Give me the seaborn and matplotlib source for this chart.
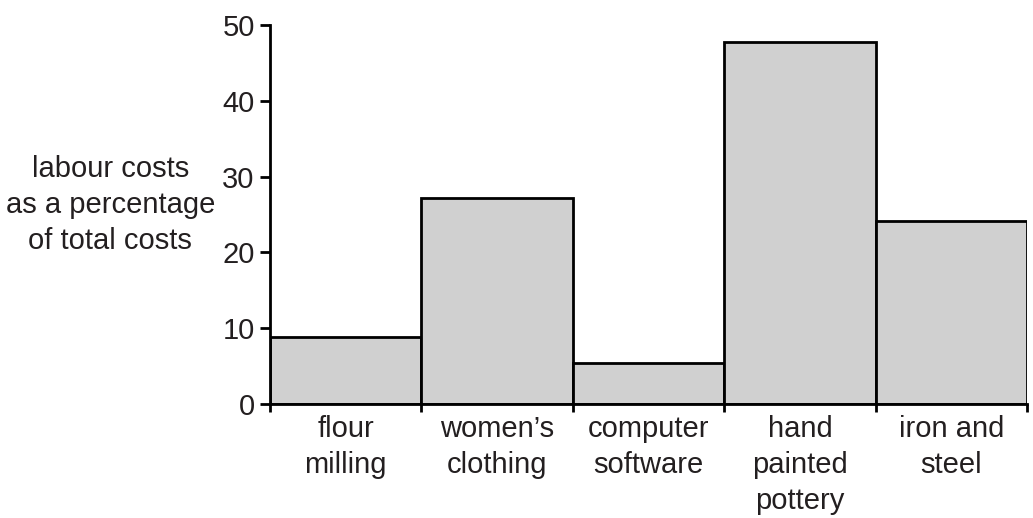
import matplotlib
matplotlib.use("Agg")
import matplotlib.pyplot as plt
import seaborn as sns
import pandas as pd
import numpy as np

categories = ["flour\nmilling", "women’s\nclothing", "computer\nsoftware",
              "hand\npainted\npottery", "iron and\nsteel"]
values = [8.9, 27.2, 5.4, 47.8, 24.2]
yticks = [0, 10, 20, 30, 40, 50]
ylabel = "labour costs\nas a percentage\nof total costs"

sns.set_theme(style="white")
plt.rcParams['font.family'] = ['Liberation Sans', 'DejaVu Sans']
txt = '#231f20'
fs = 21

df = pd.DataFrame({"industry": categories, "pct": values})

fig = plt.figure(figsize=(10.33, 5.18), dpi=100)
ax = fig.add_axes([270/1033, 1-404/518, (1027-270)/1033, (404-25)/518])

sns.barplot(data=df, x="industry", y="pct", color="#d0d0d0", width=1.0,
            edgecolor="black", linewidth=2, saturation=1, ax=ax)

ax.set_xlim(-0.5, len(categories)-0.5)
ax.set_ylim(0, 50)
ax.set_yticks(yticks)
ax.set_yticklabels([str(t) for t in yticks], fontsize=fs, color=txt)
ax.tick_params(axis='y', length=7, width=2, color='black', pad=4, left=True)

edges = np.arange(len(categories)+1) - 0.5
ax.set_xticks(edges)
ax.set_xticklabels([""]*len(edges))
ax.tick_params(axis='x', which='major', length=6, width=2, color='black', bottom=True)
ax.set_xticks(np.arange(len(categories)), minor=True)
ax.set_xticklabels(categories, minor=True, fontsize=fs, color=txt, linespacing=1.37, va='top')
ax.tick_params(axis='x', which='minor', length=0, pad=8)

for s in ['top', 'right']:
    ax.spines[s].set_visible(False)
for s in ['left', 'bottom']:
    ax.spines[s].set_linewidth(2)
    ax.spines[s].set_color('black')

ax.set_xlabel("")
ax.set_ylabel(ylabel, rotation=0, ha='center', va='center', fontsize=fs,
              color=txt, linespacing=1.35)
ax.yaxis.set_label_coords(-0.211, 0.525)

fig.savefig("out.png", dpi=100)
